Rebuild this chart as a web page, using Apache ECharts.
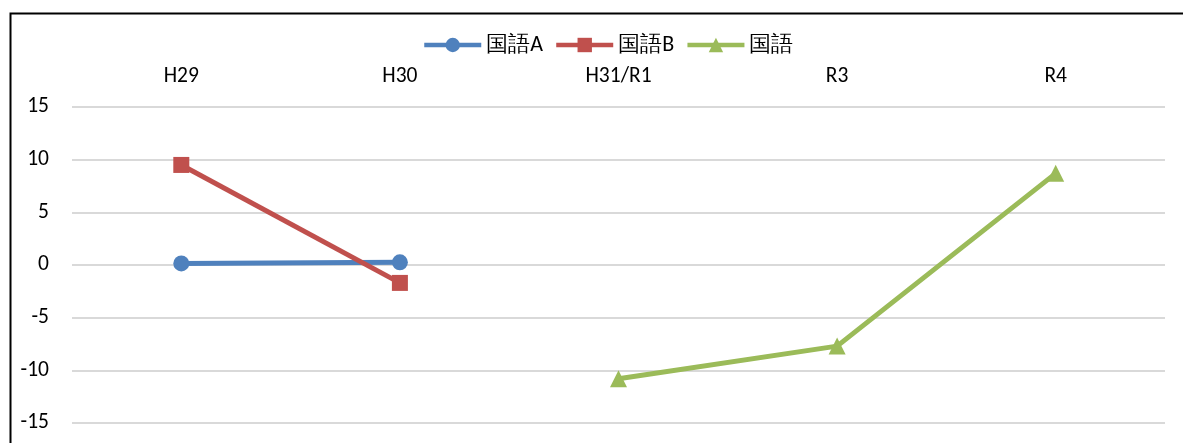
<!DOCTYPE html>
<html><head><meta charset="utf-8">
<script src="https://cdn.jsdelivr.net/npm/echarts@6/dist/echarts.min.js"></script>
<style>html,body{margin:0;padding:0;background:#fff}#c{width:1183px;height:443px}</style>
</head><body><div id="c"></div>
<script>
const categories = ['H29', 'H30', 'H31/R1', 'R3', 'R4'];
const seriesNames = ['国語A', '国語B', '国語'];
const kokugoA = [0.15, 0.25, null, null, null];
const kokugoB = [9.5, -1.7, null, null, null];
const kokugo = [null, null, -10.8, -7.7, 8.7];
const yTicks = [-15, -10, -5, 0, 5, 10, 15];

const FONT = 'Carlito, "Liberation Sans", Arial, sans-serif';
const chart = echarts.init(document.getElementById('c'), null, {renderer: 'canvas'});
chart.setOption({
  animation: false,
  backgroundColor: '#fff',
  graphic: [{
    type: 'rect', left: 8, top: 11, z: 100, silent: true,
    shape: {x: 0, y: 0, width: 1300, height: 600},
    style: {fill: 'none', stroke: '#000', lineWidth: 2}
  }],
  legend: {
    top: 29, left: 422, padding: [5, 0, 5, 0], itemGap: 11, itemWidth: 57, itemHeight: 18,
    lineStyle: {width: 4.5},
    textStyle: {fontFamily: FONT, fontSize: 22, color: '#000'},
    data: seriesNames
  },
  grid: {left: 72, right: 18, top: 107, bottom: 20, containLabel: false},
  xAxis: {
    type: 'category', position: 'top', data: categories, boundaryGap: true,
    axisLine: {show: false}, axisTick: {show: false},
    axisLabel: {fontFamily: FONT, fontSize: 21.5, color: '#000', margin: 19}
  },
  yAxis: {
    type: 'value', min: yTicks[0], max: yTicks[yTicks.length - 1], interval: 5,
    axisLine: {show: false}, axisTick: {show: false},
    axisLabel: {fontFamily: FONT, fontSize: 21.5, color: '#000', margin: 23},
    splitLine: {lineStyle: {color: '#d9d9d9', width: 2}}
  },
  series: [
    {name: seriesNames[0], type: 'line', data: kokugoA, symbol: 'circle', symbolSize: 16,
     color: '#4F81BD', lineStyle: {width: 5}, itemStyle: {color: '#4F81BD'}},
    {name: seriesNames[1], type: 'line', data: kokugoB, symbol: 'rect', symbolSize: 16,
     color: '#C0504D', lineStyle: {width: 5}, itemStyle: {color: '#C0504D'}},
    {name: seriesNames[2], type: 'line', data: kokugo, symbol: 'triangle', symbolSize: 17,
     color: '#9BBB59', lineStyle: {width: 5}, itemStyle: {color: '#9BBB59'}}
  ]
});
</script></body></html>
